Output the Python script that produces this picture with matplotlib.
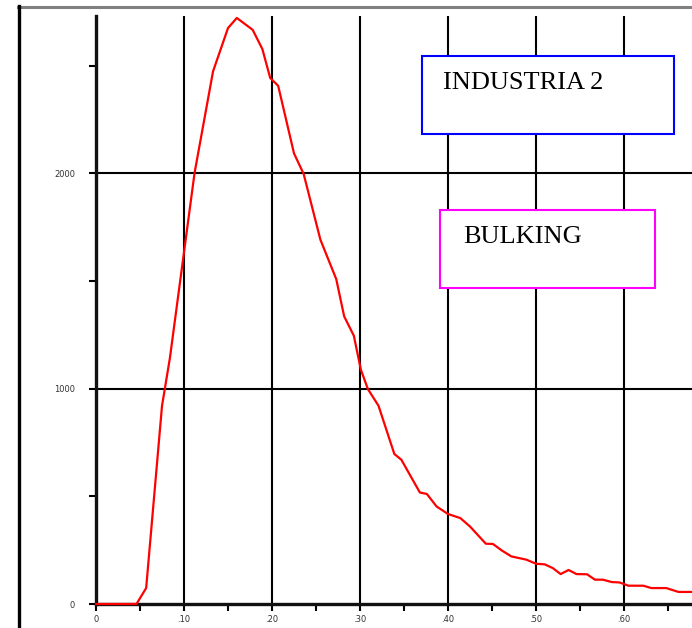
import matplotlib
matplotlib.use("Agg")
import matplotlib.pyplot as plt
from matplotlib.patches import Rectangle
from matplotlib.lines import Line2D

# data
x_vals = [0, .046, .057, .075, .084, .112, .133, .150, .160, .178,
          .189, .198, .207, .225, .236, .255, .273, .282, .293, .301,
          .309, .321, .339, .347, .368, .376, .387, .400, .414, .425,
          .436, .443, .451, .461, .472, .489, .500, .510, .519, .528,
          .537, .546, .558, .567, .576, .586, .595, .605, .622, .631,
          .648, .662, .677]
y_vals = [0, 0, 74, 920, 1143, 2002, 2474, 2675, 2722, 2667,
          2578, 2443, 2407, 2093, 1997, 1692, 1509, 1336, 1246, 1088,
          998, 921, 697, 670, 518, 511, 453, 418, 399, 360,
          311, 280, 279, 249, 221, 206, 187, 184, 167, 139,
          158, 139, 138, 113, 113, 102, 100, 85, 85, 74,
          74, 56, 56]

xticks_major = [0, .1, .2, .3, .4, .5, .6]
xtick_labels = ["0", ".10", ".20", ".30", ".40", ".50", ".60"]
xticks_minor = [.05, .15, .25, .35, .45, .55, .65]
yticks = [0, 500, 1000, 1500, 2000, 2500]
ytick_labels = ["0", "", "1000", "", "2000", ""]
grid_x = [.1, .2, .3, .4, .5, .6]
grid_y = [1000, 2000]

title1 = "INDUSTRIA 2"
title2 = "BULKING"

W, H = 692, 628
fig = plt.figure(figsize=(W / 100, H / 100), dpi=100)
fig.patch.set_facecolor("white")

ax = fig.add_axes([96 / W, (H - 604) / H, 596 / W, 588 / H])
ax.set_xlim(0, 596 / 880)
ax.set_ylim(0, 588 / 0.2153)

for gx in grid_x:
    ax.axvline(gx, color="black", lw=1.5, zorder=1)
for gy in grid_y:
    ax.axhline(gy, color="black", lw=1.5, zorder=1)

for s in ["top", "right"]:
    ax.spines[s].set_visible(False)
for s in ["left", "bottom"]:
    ax.spines[s].set_linewidth(2.4)
    ax.spines[s].set_color("#111111")
    ax.spines[s].set_zorder(3)

# curve drawn over the axis line, as in the original
ax.plot(x_vals, y_vals, color="red", lw=1.6, zorder=4, clip_on=False)

ax.set_xticks(xticks_major)
ax.set_xticklabels(xtick_labels)
ax.set_xticks(xticks_minor, minor=True)
ax.set_yticks(yticks)
ax.set_yticklabels(ytick_labels)
ax.tick_params(axis="both", which="both", direction="out", length=5,
               width=1.5, color="black", labelsize=6, labelcolor="#333333")
ax.tick_params(axis="x", pad=3)
ax.tick_params(axis="y", pad=10)

# outer frame lines
fig.add_artist(Line2D([18 / W, 1], [1 - 7 / H, 1 - 7 / H], color="#808080",
                      lw=2.2, transform=fig.transFigure))
fig.add_artist(Line2D([19 / W, 19 / W], [0, 1 - 6 / H], color="black",
                      lw=2.4, transform=fig.transFigure))

# label boxes
fig.add_artist(Rectangle((422 / W, 1 - 134 / H), 252 / W, 78 / H,
                         transform=fig.transFigure, facecolor="white",
                         edgecolor="#0000ff", lw=1.5, zorder=5))
fig.text(443 / W, 1 - 83 / H, title1, fontsize=19, family="Liberation Serif",
         ha="left", va="center", zorder=6)
fig.add_artist(Rectangle((440 / W, 1 - 288 / H), 215 / W, 78 / H,
                         transform=fig.transFigure, facecolor="white",
                         edgecolor="#ff00ff", lw=1.5, zorder=5))
fig.text(463 / W, 1 - 237 / H, title2, fontsize=19, family="Liberation Serif",
         ha="left", va="center", zorder=6)

fig.savefig("out.png", dpi=100)
